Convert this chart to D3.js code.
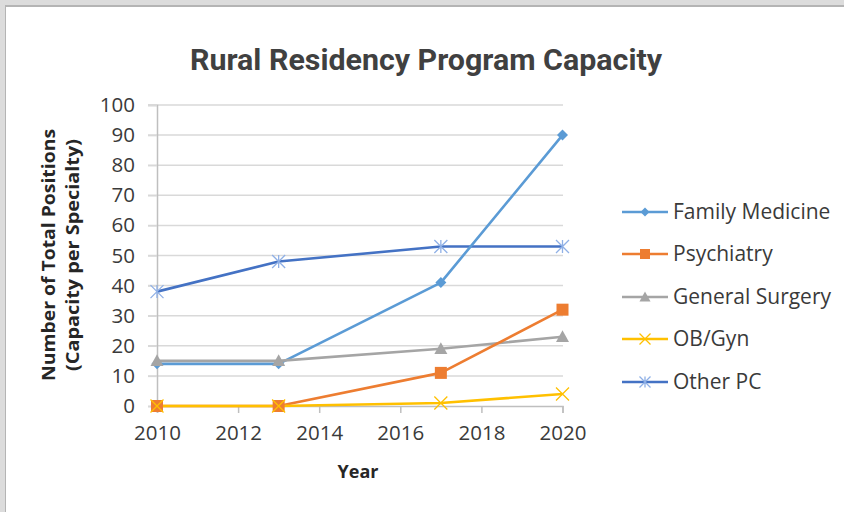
<!DOCTYPE html>
<html><head><meta charset="utf-8">
<script src="https://cdn.jsdelivr.net/npm/d3@7"></script>
<style>
html,body{margin:0;padding:0;background:#dcdcdc;}
svg{display:block;}
</style></head>
<body>
<svg id="c" width="844" height="512"></svg>
<script>
const years = [2010, 2013, 2017, 2020];
const seriesNames = ["Family Medicine", "Psychiatry", "General Surgery", "OB/Gyn", "Other PC"];
const familyMedicine = [14, 14, 41, 90];
const psychiatry = [0, 0, 11, 32];
const generalSurgery = [15, 15, 19, 23];
const obGyn = [0, 0, 1, 4];
const otherPC = [38, 48, 53, 53];
const xTicks = [2010, 2012, 2014, 2016, 2018, 2020];
const yTicks = [0, 10, 20, 30, 40, 50, 60, 70, 80, 90, 100];
const colors = ["#5B9BD5", "#ED7D31", "#A5A5A5", "#FFC000", "#4472C4"];
const markers = ["diamond", "square", "triangle", "x", "asterisk"];

const series = seriesNames.map((n, i) => ({
  name: n, color: colors[i], marker: markers[i],
  values: [familyMedicine, psychiatry, generalSurgery, obGyn, otherPC][i]
}));

const svg = d3.select("#c");
// frame
svg.append("rect").attr("x", 0).attr("y", 0).attr("width", 844).attr("height", 512).attr("fill", "#dcdcdc");
svg.append("rect").attr("x", 5).attr("y", 5).attr("width", 839).attr("height", 507).attr("fill", "#b4b4b4");
svg.append("rect").attr("x", 6).attr("y", 7).attr("width", 838).attr("height", 505).attr("fill", "#ffffff");

const x = d3.scaleLinear().domain([2010, 2020]).range([157, 562.5]);
const y = d3.scaleLinear().domain([0, 100]).range([406, 105]);

// gridlines
svg.append("g").selectAll("line").data(yTicks.filter(d => d > 0)).join("line")
  .attr("x1", 148).attr("x2", 563).attr("y1", d => y(d)).attr("y2", d => y(d))
  .attr("stroke", "#d9d9d9").attr("stroke-width", 1.5);

const tickFont = "Open Sans";
// y axis
const yAxis = svg.append("g").attr("transform", `translate(157,0)`)
  .call(d3.axisLeft(y).tickValues(yTicks).tickSize(9).tickPadding(13));
yAxis.select(".domain").attr("stroke", "#bfbfbf").attr("stroke-width", 1.5);
yAxis.selectAll(".tick line").attr("stroke", "#d9d9d9").attr("stroke-width", 1.5);
yAxis.selectAll("text").attr("font-family", tickFont).attr("font-size", 20.5).attr("fill", "#3a3a3a");

// x axis
const xAxis = svg.append("g").attr("transform", `translate(0,${y(0)})`)
  .call(d3.axisBottom(x).tickValues(xTicks).tickFormat(d3.format("d")).tickSize(7).tickPadding(12));
xAxis.select(".domain").attr("stroke", "#bfbfbf").attr("stroke-width", 1.5);
xAxis.selectAll(".tick line").attr("stroke", "#bfbfbf").attr("stroke-width", 1.5);
xAxis.selectAll("text").attr("font-family", tickFont).attr("font-size", 20.5).attr("fill", "#3a3a3a");

// marker drawer
function drawMarker(g, type, color, cx, cy, s) {
  if (type === "diamond") {
    g.append("path").attr("d", `M${cx},${cy - s}L${cx + s},${cy}L${cx},${cy + s}L${cx - s},${cy}Z`).attr("fill", color);
  } else if (type === "square") {
    g.append("rect").attr("x", cx - s).attr("y", cy - s).attr("width", 2 * s).attr("height", 2 * s).attr("fill", color);
  } else if (type === "triangle") {
    g.append("path").attr("d", `M${cx},${cy - s}L${cx + s},${cy + s * 0.8}L${cx - s},${cy + s * 0.8}Z`).attr("fill", color);
  } else if (type === "x") {
    g.append("path").attr("d", `M${cx - s},${cy - s}L${cx + s},${cy + s}M${cx - s},${cy + s}L${cx + s},${cy - s}`)
      .attr("stroke", color).attr("stroke-width", 1.3).attr("fill", "none");
  } else if (type === "asterisk") {
    g.append("path").attr("d", `M${cx - s},${cy - s}L${cx + s},${cy + s}M${cx - s},${cy + s}L${cx + s},${cy - s}M${cx},${cy - s}L${cx},${cy + s}`)
      .attr("stroke", "#8fb0e6").attr("stroke-width", 1.3).attr("fill", "none");
  }
}

const line = d3.line().x((d, i) => x(years[i])).y(d => y(d));
const plot = svg.append("g");
const drawOrder = [4, 0, 2, 1, 3];
drawOrder.forEach(k => {
  const s = series[k];
  plot.append("path").datum(s.values).attr("d", line)
    .attr("fill", "none").attr("stroke", s.color).attr("stroke-width", 2.6).attr("stroke-linejoin", "round");
});
drawOrder.forEach(k => {
  const s = series[k];
  const sz = s.marker === "square" ? 6 : s.marker === "diamond" ? 5.5 : 6.5;
  s.values.forEach((v, i) => drawMarker(plot, s.marker, s.color, x(years[i]), y(v), sz));
});

// title
svg.append("text").attr("x", 426).attr("y", 70).attr("text-anchor", "middle")
  .attr("font-family", "Roboto").attr("font-weight", "bold").attr("font-size", 30)
  .attr("fill", "#404040").attr("textLength", 472).attr("lengthAdjust", "spacingAndGlyphs")
  .text("Rural Residency Program Capacity");

// y axis title
const yt = svg.append("g").attr("transform", "translate(0,255) rotate(-90)");
yt.append("text").attr("x", 0).attr("y", 55).attr("text-anchor", "middle")
  .attr("font-family", "Open Sans").attr("font-weight", "bold").attr("font-size", 18).attr("fill", "#262626")
  .attr("textLength", 252).attr("lengthAdjust", "spacingAndGlyphs")
  .text("Number of Total Positions");
yt.append("text").attr("x", 0).attr("y", 79).attr("text-anchor", "middle")
  .attr("font-family", "Open Sans").attr("font-weight", "bold").attr("font-size", 18).attr("fill", "#262626")
  .attr("textLength", 232).attr("lengthAdjust", "spacingAndGlyphs")
  .text("(Capacity per Specialty)");

// x axis title
svg.append("text").attr("x", 358).attr("y", 478).attr("text-anchor", "middle")
  .attr("font-family", "Open Sans").attr("font-weight", "bold").attr("font-size", 18).attr("fill", "#262626")
  .text("Year");

// legend
const legY = [212, 254, 297, 339, 382];
const leg = svg.append("g");
series.forEach((s, i) => {
  leg.append("line").attr("x1", 622).attr("x2", 668).attr("y1", legY[i]).attr("y2", legY[i])
    .attr("stroke", s.color).attr("stroke-width", 2.6);
  const sz = s.marker === "square" ? 5 : s.marker === "diamond" ? 4.5 : 5.5;
  drawMarker(leg, s.marker, s.color, 645, legY[i], sz);
  leg.append("text").attr("x", 673).attr("y", legY[i]).attr("dy", "0.35em")
    .attr("font-family", "Open Sans").attr("font-size", 21).attr("fill", "#3a3a3a")
    .text(s.name);
});
</script>
</body></html>
